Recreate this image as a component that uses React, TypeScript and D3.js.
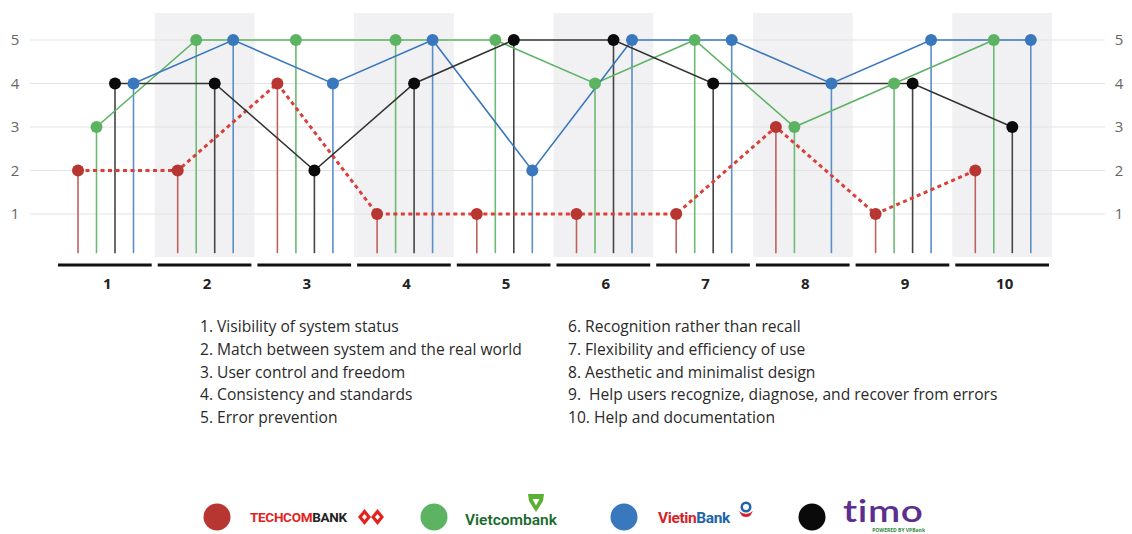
import { useMemo } from 'react'
import * as d3 from 'd3'

const groups = ['1', '2', '3', '4', '5', '6', '7', '8', '9', '10']
// order of the stems inside each group, left to right
const seriesNames = ['Techcombank', 'Vietcombank', 'Timo', 'VietinBank']
const techcombank = [2, 2, 4, 1, 1, 1, 1, 3, 1, 2]
const vietcombank = [3, 5, 5, 5, 5, 4, 5, 3, 4, 5]
const vietinbank = [4, 5, 4, 5, 2, 5, 5, 4, 5, 5]
const timo: (number | null)[] = [4, 4, 2, 4, 5, 5, 4, null, 4, 3]
const yTicks = [1, 2, 3, 4, 5]

const heuristicsLeft = [
  '1. Visibility of system status',
  '2. Match between system and the real world',
  '3. User control and freedom',
  '4. Consistency and standards',
  '5. Error prevention',
]
const heuristicsRight = [
  '6. Recognition rather than recall',
  '7. Flexibility and efficiency of use',
  '8. Aesthetic and minimalist design',
  '9.  Help users recognize, diagnose, and recover from errors',
  '10. Help and documentation',
]

const COLORS: Record<string, { dot: string; stem: string; line: string }> = {
  Techcombank: { dot: '#b73631', stem: '#c0605c', line: '#d9403a' },
  Vietcombank: { dot: '#5cb463', stem: '#6dbb72', line: '#5cb463' },
  VietinBank: { dot: '#3a78bd', stem: '#5b8fc8', line: '#3a78bd' },
  Timo: { dot: '#0a0a0a', stem: '#444', line: '#333' },
}

const FONT = '"Open Sans", "Noto Sans", sans-serif'

export default function App() {
  const series = useMemo(
    () => [
      { name: 'Techcombank', values: techcombank as (number | null)[] },
      { name: 'Vietcombank', values: vietcombank as (number | null)[] },
      { name: 'VietinBank', values: vietinbank as (number | null)[] },
      { name: 'Timo', values: timo },
    ],
    []
  )

  const width = 1132
  const height = 534

  const x = d3.scaleBand<string>().domain(groups).range([55, 1052])
  const inner = d3.scalePoint<string>().domain(seriesNames).range([23, 78.5])
  const y = d3.scaleLinear().domain([1, 5]).range([214, 40])
  const stemBase = y(0.1)

  const px = (g: string, s: string) => (x(g) ?? 0) + (inner(s) ?? 0)

  const line = d3
    .line<{ g: string; v: number; s: string }>()
    .x((d) => px(d.g, d.s))
    .y((d) => y(d.v))

  return (
    <div style={{ position: 'fixed', left: 0, top: 0, background: '#fff' }}>
      <svg width={width} height={height} style={{ display: 'block' }} fontFamily={FONT}>
        {/* shaded bands for even groups */}
        {groups.map((g, i) =>
          i % 2 === 1 ? (
            <rect key={'band' + g} x={x(g)} y={13} width={x.bandwidth()} height={244} fill="#f1f1f3" />
          ) : null
        )}

        {/* gridlines */}
        {yTicks.map((t) => (
          <g key={'grid' + t}>
            <line x1={30} x2={1105} y1={y(t)} y2={y(t)} stroke="#e3e3e3" strokeWidth={1} />
            <text x={15} y={y(t)} dy="0.36em" textAnchor="middle" fontSize={15} fill="#666">
              {t}
            </text>
            <text x={1119} y={y(t)} dy="0.36em" textAnchor="middle" fontSize={15} fill="#666">
              {t}
            </text>
          </g>
        ))}

        {/* group bars and labels */}
        {groups.map((g) => (
          <g key={'axis' + g}>
            <line
              x1={(x(g) ?? 0) + 3}
              x2={(x(g) ?? 0) + x.bandwidth() - 3}
              y1={265}
              y2={265}
              stroke="#111"
              strokeWidth={3}
            />
            <text
              x={(x(g) ?? 0) + x.bandwidth() / 2 + 2.5}
              y={289}
              textAnchor="middle"
              fontSize={15}
              fontWeight={700}
              fill="#222"
            >
              {g}
            </text>
          </g>
        ))}

        {/* stems */}
        {series.map((s) =>
          s.values.map((v, i) =>
            v == null ? null : (
              <line
                key={'stem' + s.name + i}
                x1={px(groups[i], s.name)}
                x2={px(groups[i], s.name)}
                y1={stemBase}
                y2={y(v)}
                stroke={COLORS[s.name].stem}
                strokeWidth={1.6}
              />
            )
          )
        )}

        {/* connecting lines */}
        {series.map((s) => {
          const pts = s.values
            .map((v, i) => ({ g: groups[i], v: v as number, s: s.name }))
            .filter((d) => d.v != null)
          const dashed = s.name === 'Techcombank'
          return (
            <path
              key={'line' + s.name}
              d={line(pts) ?? ''}
              fill="none"
              stroke={COLORS[s.name].line}
              strokeWidth={dashed ? 3 : 1.6}
              strokeDasharray={dashed ? '4 3.5' : undefined}
            />
          )
        })}

        {/* dots */}
        {series.map((s) =>
          s.values.map((v, i) =>
            v == null ? null : (
              <circle
                key={'dot' + s.name + i}
                cx={px(groups[i], s.name)}
                cy={y(v)}
                r={6}
                fill={COLORS[s.name].dot}
              />
            )
          )
        )}

        {/* heuristics list */}
        {heuristicsLeft.map((t, i) => (
          <text key={'hl' + i} x={200} y={332 + i * 22.8} fontSize={15.6} fill="#2a2a2a">
            {t}
          </text>
        ))}
        {heuristicsRight.map((t, i) => (
          <text
            key={'hr' + i}
            x={568}
            y={332 + i * 22.8}
            fontSize={15.6}
            fill="#2a2a2a"
            style={{ whiteSpace: 'pre' }}
          >
            {t}
          </text>
        ))}

        {/* legend */}
        <g>
          <circle cx={217} cy={517} r={13.5} fill={COLORS.Techcombank.dot} />
          <text x={250} y={522} fontSize={13.5} fontWeight={700} fontFamily='"Liberation Sans Narrow", "Roboto", sans-serif' letterSpacing={-0.3}>
            <tspan fill="#e3221d">TECHCOM</tspan>
            <tspan fill="#222">BANK</tspan>
          </text>
          <g transform="translate(371,517)">
            <path d="M-13,0 L-6.5,-8 L0,0 L-6.5,8 Z" fill="#e3221d" />
            <path d="M0,0 L6.5,-8 L13,0 L6.5,8 Z" fill="#e3221d" />
            <path d="M-6.5,-3 L-4,0 L-6.5,3 L-9,0 Z" fill="#fff" />
            <path d="M6.5,-3 L9,0 L6.5,3 L4,0 Z" fill="#fff" />
          </g>

          <circle cx={434} cy={517} r={13.5} fill={COLORS.Vietcombank.dot} />
          <text x={465} y={525} fontSize={15.5} fontWeight={600} fill="#1a6b2e" fontFamily='"Roboto", sans-serif'>
            Vietcombank
          </text>
          <g transform="translate(536,503)">
            <path d="M-8,-9 L8,-9 L7,-2 L0,9 L-7,-2 Z" fill="#5cb031" />
            <path d="M-3.5,-4 L3.5,-4 L0,2.5 Z" fill="#fff" />
          </g>

          <circle cx={624} cy={517} r={13.5} fill={COLORS.VietinBank.dot} />
          <text x={658} y={523} fontSize={15.5} fontWeight={700} fontFamily='"Roboto", sans-serif' letterSpacing={-0.4}>
            <tspan fill="#d5232a">Vietin</tspan>
            <tspan fill="#1e64ad">Bank</tspan>
          </text>
          <g transform="translate(746,510)">
            <circle cy={-3} r={5.5} fill="#1e64ad" />
            <circle cy={-3} r={3} fill="#fff" />
            <path d="M-7,1 Q0,7 7,1 L4,6 Q0,8 -4,6 Z" fill="#d5232a" />
          </g>

          <circle cx={812} cy={517} r={13.5} fill={COLORS.Timo.dot} />
          <g transform="translate(843,522) scale(1.25,1)">
            <text fontSize={31} fontWeight={600} fill="#5c2f8e" fontFamily='"Lato", sans-serif' letterSpacing={0.5}>
              timo
            </text>
          </g>
          <text x={925} y={532} fontSize={5} textAnchor="end" fill="#2e8a3c" fontWeight={700}>
            POWERED BY VPBank
          </text>
        </g>
      </svg>
    </div>
  )
}
